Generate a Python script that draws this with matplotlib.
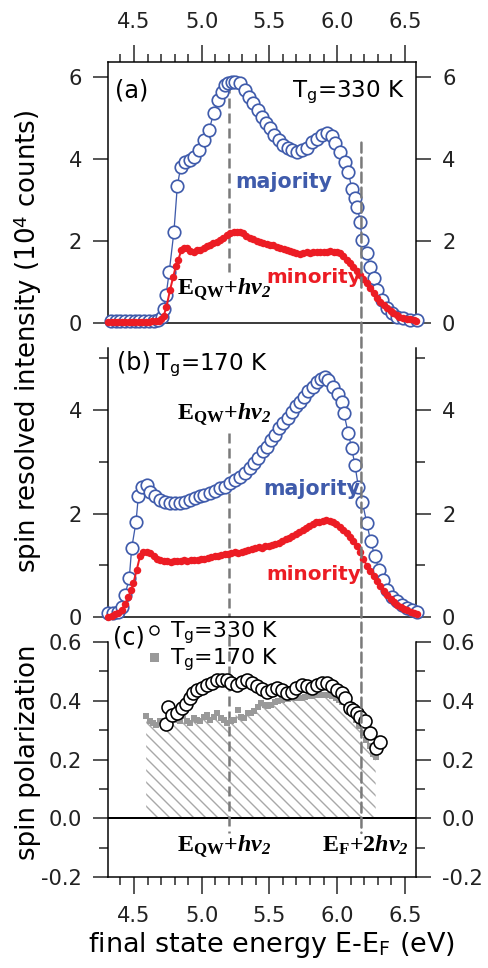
import matplotlib
matplotlib.use("Agg")
import matplotlib.pyplot as plt
from matplotlib.lines import Line2D
from matplotlib.patches import ConnectionPatch
from matplotlib.ticker import MultipleLocator, FixedLocator

plt.rcParams['font.family'] = ['DejaVu Sans']
plt.rcParams['axes.unicode_minus'] = False
plt.rcParams['mathtext.fontset'] = 'custom'
plt.rcParams['mathtext.rm'] = 'Liberation Serif'
plt.rcParams['mathtext.bf'] = 'Liberation Serif:bold'
plt.rcParams['mathtext.it'] = 'Liberation Serif:italic'
plt.rcParams['mathtext.bfit'] = 'Liberation Serif:italic:bold'
plt.rcParams['hatch.linewidth'] = 1.4

# ---------------- data ----------------
# panel (a) Tg = 330 K, majority (open circles)
E_a_maj = [4.33, 4.365, 4.40, 4.435, 4.47, 4.505, 4.54, 4.575, 4.61, 4.645, 4.68, 4.705,
           4.72, 4.737, 4.76, 4.795, 4.82, 4.845, 4.877, 4.91, 4.945, 4.98, 5.017, 5.054,
           5.088, 5.12, 5.148, 5.172, 5.197, 5.222, 5.246, 5.283, 5.32, 5.352, 5.381, 5.413,
           5.443, 5.472, 5.504, 5.536, 5.571, 5.603, 5.635, 5.669, 5.701, 5.738, 5.775, 5.812,
           5.849, 5.886, 5.923, 5.96, 5.985, 6.021, 6.058, 6.083, 6.108, 6.132, 6.15, 6.17,
           6.186, 6.219, 6.243, 6.273, 6.297, 6.33, 6.366, 6.403, 6.44, 6.489, 6.538, 6.588]
I_a_maj = [0.05, 0.05, 0.05, 0.05, 0.05, 0.05, 0.05, 0.05, 0.05, 0.06, 0.08, 0.15,
           0.35, 0.68, 1.24, 2.23, 3.34, 3.81, 3.93, 3.98, 4.06, 4.22, 4.46, 4.70,
           5.11, 5.44, 5.64, 5.80, 5.85, 5.87, 5.89, 5.85, 5.68, 5.52, 5.36, 5.20,
           5.03, 4.87, 4.75, 4.59, 4.46, 4.34, 4.26, 4.22, 4.18, 4.22, 4.28, 4.42,
           4.50, 4.59, 4.63, 4.55, 4.38, 4.18, 3.93, 3.69, 3.28, 3.04, 2.84, 2.47,
           2.02, 1.70, 1.37, 1.09, 0.80, 0.56, 0.36, 0.24, 0.15, 0.11, 0.07, 0.07]

# panel (a) minority (filled dots)
E_a_min = [4.31, 4.335, 4.36, 4.385, 4.41, 4.435, 4.46, 4.485, 4.51, 4.535, 4.56, 4.585,
           4.61, 4.635, 4.66, 4.685, 4.70, 4.72, 4.74, 4.766, 4.79, 4.81, 4.827, 4.85,
           4.87, 4.89, 4.915, 4.94, 4.965, 4.99, 5.015, 5.04, 5.06, 5.085, 5.11, 5.135,
           5.16, 5.185, 5.21, 5.235, 5.258, 5.28, 5.307, 5.33, 5.357, 5.38, 5.405, 5.43,
           5.455, 5.48, 5.505, 5.53, 5.555, 5.58, 5.605, 5.628, 5.65, 5.675, 5.70, 5.726,
           5.75, 5.775, 5.80, 5.825, 5.85, 5.875, 5.90, 5.925, 5.95, 5.975, 6.00, 6.02,
           6.045, 6.07, 6.095, 6.12, 6.145, 6.17, 6.195, 6.22, 6.245, 6.27, 6.295, 6.32,
           6.345, 6.37, 6.395, 6.415, 6.44, 6.46, 6.49, 6.515, 6.54, 6.565, 6.585]
I_a_min = [0.03, 0.02, 0.03, 0.03, 0.02, 0.03, 0.03, 0.02, 0.03, 0.03, 0.03, 0.02,
           0.03, 0.04, 0.04, 0.06, 0.10, 0.18, 0.40, 0.80, 1.13, 1.40, 1.54, 1.78,
           1.83, 1.82, 1.76, 1.74, 1.77, 1.78, 1.82, 1.87, 1.90, 1.94, 1.98, 2.02,
           2.08, 2.15, 2.19, 2.22, 2.23, 2.21, 2.19, 2.13, 2.07, 2.04, 2.00, 1.98,
           1.95, 1.93, 1.91, 1.90, 1.86, 1.83, 1.80, 1.78, 1.75, 1.72, 1.70, 1.68,
           1.70, 1.72, 1.71, 1.73, 1.72, 1.74, 1.73, 1.74, 1.75, 1.74, 1.72, 1.70,
           1.63, 1.54, 1.46, 1.37, 1.27, 1.17, 1.07, 0.97, 0.85, 0.72, 0.62, 0.52,
           0.44, 0.36, 0.29, 0.24, 0.19, 0.15, 0.12, 0.10, 0.09, 0.07, 0.05]

# panel (b) Tg = 170 K, majority
E_b_maj = [4.31, 4.345, 4.38, 4.41, 4.434, 4.465, 4.483, 4.515, 4.532, 4.557, 4.594, 4.618,
           4.655, 4.69, 4.73, 4.766, 4.80, 4.84, 4.877, 4.91, 4.95, 4.987, 5.02, 5.06,
           5.098, 5.135, 5.172, 5.209, 5.246, 5.28, 5.32, 5.357, 5.386, 5.418, 5.45, 5.48,
           5.51, 5.54, 5.573, 5.603, 5.635, 5.665, 5.696, 5.726, 5.756, 5.787, 5.82, 5.849,
           5.881, 5.91, 5.935, 5.972, 6.009, 6.034, 6.05, 6.083, 6.108, 6.132, 6.157, 6.186,
           6.22, 6.248, 6.28, 6.31, 6.34, 6.37, 6.403, 6.44, 6.477, 6.514, 6.55, 6.588]
I_b_maj = [0.08, 0.08, 0.10, 0.20, 0.43, 0.75, 1.33, 1.84, 2.33, 2.52, 2.55, 2.42,
           2.33, 2.26, 2.23, 2.20, 2.20, 2.21, 2.23, 2.26, 2.30, 2.33, 2.36, 2.40,
           2.44, 2.49, 2.52, 2.59, 2.65, 2.71, 2.78, 2.88, 2.97, 3.07, 3.20, 3.29,
           3.42, 3.52, 3.65, 3.75, 3.84, 3.97, 4.07, 4.16, 4.26, 4.36, 4.45, 4.55,
           4.60, 4.64, 4.58, 4.45, 4.32, 4.16, 3.94, 3.55, 3.26, 2.94, 2.52, 2.23,
           1.81, 1.46, 1.17, 0.91, 0.72, 0.52, 0.39, 0.30, 0.23, 0.17, 0.14, 0.10]

# panel (b) minority
E_b_min = [4.31, 4.335, 4.36, 4.385, 4.41, 4.435, 4.458, 4.48, 4.495, 4.52, 4.544, 4.57,
           4.595, 4.618, 4.645, 4.67, 4.695, 4.72, 4.745, 4.77, 4.795, 4.82, 4.845, 4.87,
           4.895, 4.92, 4.945, 4.97, 4.995, 5.02, 5.045, 5.07, 5.095, 5.12, 5.145, 5.17,
           5.195, 5.22, 5.245, 5.27, 5.295, 5.32, 5.345, 5.37, 5.395, 5.42, 5.445, 5.47,
           5.495, 5.52, 5.545, 5.57, 5.595, 5.62, 5.645, 5.67, 5.695, 5.72, 5.745, 5.77,
           5.795, 5.82, 5.845, 5.87, 5.895, 5.92, 5.945, 5.97, 5.995, 6.02, 6.045, 6.07,
           6.095, 6.12, 6.145, 6.17, 6.195, 6.22, 6.245, 6.27, 6.295, 6.32, 6.345, 6.37,
           6.395, 6.42, 6.445, 6.47, 6.495, 6.52, 6.545, 6.57, 6.59]
I_b_min = [0.00, 0.02, 0.05, 0.08, 0.14, 0.25, 0.39, 0.52, 0.65, 0.91, 1.17, 1.26,
           1.26, 1.23, 1.17, 1.12, 1.10, 1.08, 1.08, 1.07, 1.08, 1.09, 1.08, 1.10,
           1.09, 1.10, 1.11, 1.10, 1.12, 1.13, 1.14, 1.16, 1.17, 1.18, 1.19, 1.21,
           1.22, 1.23, 1.25, 1.24, 1.26, 1.28, 1.29, 1.31, 1.33, 1.35, 1.34, 1.37,
           1.38, 1.40, 1.42, 1.44, 1.47, 1.50, 1.53, 1.56, 1.60, 1.64, 1.68, 1.72,
           1.76, 1.80, 1.83, 1.84, 1.86, 1.87, 1.86, 1.84, 1.80, 1.74, 1.68, 1.62,
           1.55, 1.47, 1.38, 1.25, 1.12, 0.99, 0.89, 0.79, 0.69, 0.60, 0.51, 0.43,
           0.35, 0.29, 0.24, 0.20, 0.16, 0.13, 0.10, 0.08, 0.06]

# panel (c) spin polarization
E_c_330 = [4.74, 4.754, 4.778, 4.815, 4.852, 4.884, 4.914, 4.938, 4.963, 5.00, 5.037, 5.074,
           5.11, 5.148, 5.185, 5.22, 5.26, 5.295, 5.332, 5.37, 5.406, 5.443, 5.48, 5.517,
           5.554, 5.59, 5.628, 5.665, 5.70, 5.74, 5.775, 5.812, 5.85, 5.886, 5.923, 5.96,
           5.997, 6.034, 6.058, 6.095, 6.12, 6.145, 6.17, 6.206, 6.243, 6.287, 6.317]
P_c_330 = [0.32, 0.38, 0.35, 0.36, 0.375, 0.39, 0.41, 0.425, 0.435, 0.445, 0.455, 0.46,
           0.47, 0.47, 0.47, 0.46, 0.455, 0.465, 0.47, 0.46, 0.45, 0.44, 0.43, 0.435,
           0.445, 0.435, 0.425, 0.43, 0.445, 0.455, 0.45, 0.445, 0.455, 0.46, 0.46, 0.45,
           0.435, 0.425, 0.41, 0.375, 0.37, 0.36, 0.345, 0.33, 0.29, 0.24, 0.26]

E_c_170 = [4.59, 4.615, 4.64, 4.665, 4.69, 4.715, 4.74, 4.765, 4.79, 4.815, 4.84, 4.865,
           4.89, 4.915, 4.94, 4.965, 4.99, 5.015, 5.04, 5.065, 5.09, 5.115, 5.14, 5.165,
           5.19, 5.215, 5.24, 5.265, 5.29, 5.315, 5.34, 5.365, 5.39, 5.415, 5.44, 5.465,
           5.49, 5.515, 5.54, 5.565, 5.59, 5.615, 5.64, 5.665, 5.69, 5.715, 5.74, 5.765,
           5.79, 5.815, 5.84, 5.865, 5.89, 5.915, 5.94, 5.965, 5.99, 6.015, 6.04, 6.065,
           6.09, 6.115, 6.14, 6.165, 6.19, 6.215, 6.24, 6.265, 6.285]
P_c_170 = [0.347, 0.33, 0.325, 0.318, 0.33, 0.325, 0.332, 0.328, 0.341, 0.335, 0.33, 0.347,
           0.332, 0.325, 0.341, 0.335, 0.33, 0.345, 0.353, 0.336, 0.345, 0.358, 0.341, 0.335,
           0.325, 0.33, 0.335, 0.37, 0.345, 0.341, 0.358, 0.36, 0.364, 0.38, 0.392, 0.385,
           0.381, 0.387, 0.395, 0.40, 0.403, 0.409, 0.405, 0.41, 0.412, 0.409, 0.41, 0.413,
           0.415, 0.415, 0.418, 0.42, 0.418, 0.42, 0.418, 0.415, 0.41, 0.403, 0.395, 0.385,
           0.37, 0.355, 0.335, 0.315, 0.29, 0.265, 0.245, 0.22, 0.21]

xticks = [4.5, 5.0, 5.5, 6.0, 6.5]
E_QW_hv = 5.2
E_F_2hv = 6.18

BLUE = '#3f5bab'
RED = '#ec1c24'
GRAY = '#999999'
DASH = '#7a7a7a'

# ---------------- figure ----------------
W, H = 488, 968
fig = plt.figure(figsize=(W / 72, H / 72), dpi=72)

L, Wd = 108 / W, 308 / W
axa = fig.add_axes([L, 1 - 323 / H, Wd, 261 / H])
axb = fig.add_axes([L, 1 - 617 / H, Wd, 269 / H])
axc = fig.add_axes([L, 1 - 877 / H, Wd, 235 / H])

XLIM = (4.308, 6.583)
for ax in (axa, axb, axc):
    ax.set_xlim(*XLIM)
    for s in ax.spines.values():
        s.set_linewidth(1.5)
    ax.xaxis.set_major_locator(FixedLocator(xticks))
    ax.xaxis.set_minor_locator(MultipleLocator(0.1))
    ax.tick_params(axis='both', which='both', direction='out', width=1.5,
                   labelsize=21, colors='#222222')
    ax.tick_params(axis='y', which='major', length=15, pad=11,
                   left=True, right=True, labelleft=True, labelright=True)
    ax.tick_params(axis='y', which='minor', length=9, left=True, right=True)

axa.set_ylim(0, 6.366)
axb.set_ylim(0, 5.20)
axc.set_ylim(-0.2, 0.6)

axa.set_yticks([0, 2, 4, 6])
axb.set_yticks([0, 2, 4])
axb.yaxis.set_minor_locator(FixedLocator([1, 3, 5]))
axc.set_yticks([-0.2, 0.0, 0.2, 0.4, 0.6])
axc.yaxis.set_minor_locator(FixedLocator([-0.1, 0.1, 0.3, 0.5]))

axa.tick_params(axis='x', which='both', top=True, bottom=False, labeltop=True,
                labelbottom=False, pad=13)
axa.tick_params(axis='x', which='major', length=17)
axa.tick_params(axis='x', which='minor', length=8)
axb.tick_params(axis='x', which='both', top=False, bottom=False, labelbottom=False)
axc.tick_params(axis='x', which='both', top=False, bottom=True, labelbottom=True, pad=12)
axc.tick_params(axis='x', which='major', length=17)
axc.tick_params(axis='x', which='minor', length=8)
axb.spines['top'].set_visible(False)
axc.spines['top'].set_visible(False)

QW_LABEL = r'$\mathbf{E}_{\mathbf{QW}}\mathbf{{+}}\mathbfit{h\nu}_{\mathbfit{2}}$'
EF_LABEL = r'$\mathbf{E}_{\mathbf{F}}\mathbf{{+}2}\mathbfit{h\nu}_{\mathbfit{2}}$'

# ---------------- panel a ----------------
axa.plot(E_a_maj, I_a_maj, '-o', color=BLUE, lw=1.3, ms=12.5, mfc='white', mec=BLUE,
         mew=1.7, clip_on=False, zorder=3)
axa.plot(E_a_min, I_a_min, '-o', color=RED, lw=2.0, ms=7.5, mec=RED, mew=0,
         clip_on=False, zorder=4)
axa.plot([E_QW_hv, E_QW_hv], [5.85, 1.25], color=DASH, lw=2.5, dashes=(4, 2), zorder=2)

axa.text(0.023, 5.51, '(a)', transform=axa.get_yaxis_transform(), fontsize=24,
         va='baseline', ha='left')
axa.text(0.964, 5.51, r'T$_\mathregular{g}$=330 K', transform=axa.get_yaxis_transform(),
         fontsize=23, va='baseline', ha='right')
axa.text(5.25, 3.29, 'majority', color=BLUE, fontsize=20.5, fontweight='bold', va='baseline')
axa.text(5.475, 0.97, 'minority', color=RED, fontsize=20, fontweight='bold', va='baseline')
axa.text(4.815, 0.68, QW_LABEL, fontsize=24, va='baseline', zorder=6)

# ---------------- panel b ----------------
axb.plot(E_b_maj, I_b_maj, '-o', color=BLUE, lw=1.3, ms=12.5, mfc='white', mec=BLUE,
         mew=1.7, clip_on=False, zorder=3)
axb.plot(E_b_min, I_b_min, '-o', color=RED, lw=2.0, ms=7.5, mec=RED, mew=0,
         clip_on=False, zorder=4)
axb.plot([E_QW_hv, E_QW_hv], [3.56, 0], color=DASH, lw=2.5, dashes=(4, 2), zorder=2)

axb.text(0.03, 4.78, '(b)', transform=axb.get_yaxis_transform(), fontsize=24,
         va='baseline', ha='left')
axb.text(0.152, 4.78, r'T$_\mathregular{g}$=170 K', transform=axb.get_yaxis_transform(),
         fontsize=23, va='baseline', ha='left')
axb.text(4.815, 3.81, QW_LABEL, fontsize=24, va='baseline')
axb.text(5.453, 2.36, 'majority', color=BLUE, fontsize=20.5, fontweight='bold', va='baseline')
axb.text(5.48, 0.72, 'minority', color=RED, fontsize=20, fontweight='bold', va='baseline')

# ---------------- panel c ----------------
axc.fill_between(E_c_170, 0, P_c_170, facecolor='none', edgecolor='#a8a8a8',
                 hatch='\\\\', linewidth=0, zorder=1)
axc.plot(E_c_170, P_c_170, 's', color=GRAY, ms=5.5, mew=0, zorder=3)
axc.plot(E_c_330, P_c_330, 'o', ms=13, mfc='white', mec='black', mew=1.6, zorder=4)
axc.axhline(0, color='black', lw=2, zorder=2)
axc.plot([E_QW_hv, E_QW_hv], [0.62, -0.05], color=DASH, lw=2.5, dashes=(4, 2),
         zorder=2, clip_on=False)

axc.text(0.015, 0.59, '(c)', transform=axc.get_yaxis_transform(), fontsize=24,
         va='baseline', ha='left')
h330 = Line2D([], [], ls='none', marker='o', ms=9, mfc='white', mec='black', mew=1.4)
h170 = Line2D([], [], ls='none', marker='s', ms=9, color=GRAY, mew=0)
axc.legend([h330, h170], [r'T$_\mathregular{g}$=330 K', r'T$_\mathregular{g}$=170 K'],
           loc='upper left', bbox_to_anchor=(0.12, 1.095), frameon=False, fontsize=22,
           handlelength=0.8, handletextpad=0.35, labelspacing=0.05, borderpad=0,
           borderaxespad=0)
axc.text(4.815, -0.115, QW_LABEL, fontsize=24, va='baseline')
axc.text(5.888, -0.115, EF_LABEL, fontsize=24, va='baseline')

# long dashed line E_F + 2hv2 through all panels
con = ConnectionPatch(xyA=(E_F_2hv, 4.4), coordsA=axa.transData,
                      xyB=(E_F_2hv, -0.05), coordsB=axc.transData,
                      color=DASH, lw=2.5, linestyle=(0, (4, 2)), zorder=2)
fig.add_artist(con)

# axis labels
fig.text(28 / W, 1 - 341 / H, r'spin resolved intensity (10$^\mathregular{4}$ counts)',
         rotation=90, fontsize=26, ha='center', va='center')
fig.text(28 / W, 1 - 752 / H, 'spin polarization', rotation=90, fontsize=26,
         ha='center', va='center')
fig.text(271 / W, 1 - 945 / H, r'final state energy E-E$_\mathregular{F}$ (eV)',
         fontsize=27, ha='center', va='center')

fig.savefig('out.png', dpi=72)
